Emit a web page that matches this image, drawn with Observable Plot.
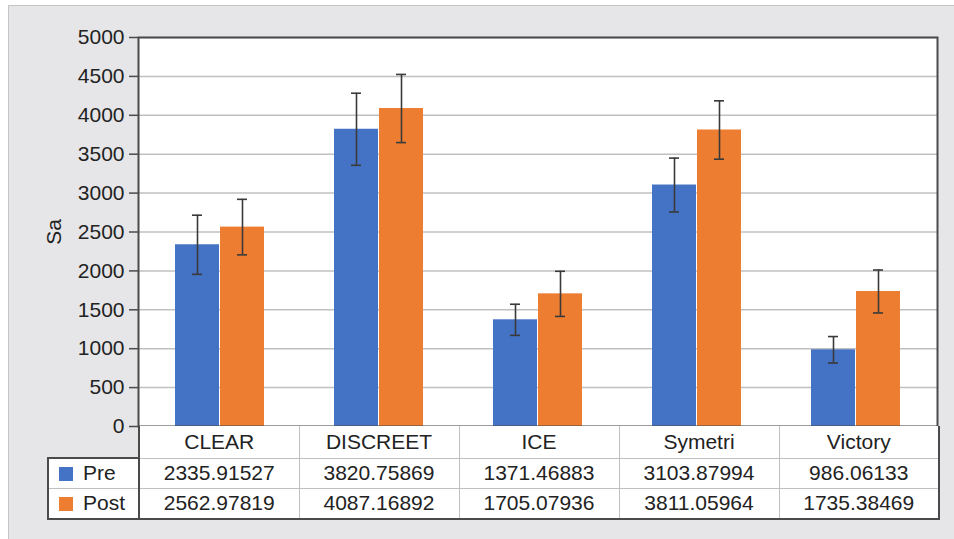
<!DOCTYPE html>
<html>
<head>
<meta charset="utf-8">
<script src="https://cdn.jsdelivr.net/npm/d3@7"></script>
<script src="https://cdn.jsdelivr.net/npm/@observablehq/plot@0.6"></script>
<style>
  html, body { margin: 0; padding: 0; background: #ffffff; }
  #wrap { position: relative; width: 954px; height: 539px; overflow: hidden; font-family: "Liberation Sans", Arial, sans-serif; }
  #panel { position: absolute; left: 8px; top: 5px; width: 960px; height: 560px; background: #e6e6e8; border-left: 1.5px solid #c4c4c6; border-top: 1.5px solid #c4c4c6; }
  #chart { position: absolute; left: 0; top: 0; }
  #tbl { position: absolute; left: 47px; top: 426px; border-collapse: collapse; table-layout: fixed; font-size: 21px; color: #222; }
  #tbl td { padding: 0; text-align: center; border: 1.5px solid #c0c0c0; background: #fff; white-space: nowrap; }
  #tbl td.leg { text-align: left; padding-left: 10px; border-left: 2px solid #4a4a4a; }
  #tbl tr.cat td { height: 31px; border-top: none; }
  #tbl tr.cat td.blank { background: transparent; border: none; border-right: 2px solid #4a4a4a; }
  #tbl tr.r1 td { height: 28.5px; }
  #tbl tr.r1 td.leg { border-top: 2px solid #4a4a4a; }
  #tbl tr.r2 td { height: 29.5px; border-bottom: 2px solid #4a4a4a; }
  #tbl td.last { border-right: 2px solid #4a4a4a; }
  #tbl td.leg { border-right: 2px solid #4a4a4a; }
  .sw { display: inline-block; width: 14px; height: 14px; vertical-align: -1px; margin-right: 10px; }
</style>
</head>
<body>
<div id="wrap">
  <div id="panel"></div>
  <div id="chart"></div>
  <table id="tbl"></table>
</div>
<script>
const categories = ["CLEAR", "DISCREET", "ICE", "Symetri", "Victory"];
const seriesNames = ["Pre", "Post"];
const preValues = [2335.91527, 3820.75869, 1371.46883, 3103.87994, 986.06133];
const postValues = [2562.97819, 4087.16892, 1705.07936, 3811.05964, 1735.38469];
const preErrors = [380, 463, 200, 346, 170];
const postErrors = [357, 438, 290, 375, 276];
const yTicks = [0, 500, 1000, 1500, 2000, 2500, 3000, 3500, 4000, 4500, 5000];
const colors = ["#4472c4", "#ed7d31"];

const data = categories.map((c, i) => ({
  category: c,
  pre: preValues[i], post: postValues[i],
  preErr: preErrors[i], postErr: postErrors[i]
}));

const errColor = "#3a3a3a";
const chart = Plot.plot({
  width: 954,
  height: 430,
  marginLeft: 138,
  marginRight: 17,
  marginTop: 37,
  marginBottom: 4,
  style: { fontFamily: "Liberation Sans, Arial, sans-serif", fontSize: "21px", color: "#222", background: "transparent", overflow: "visible" },
  x: { domain: categories, padding: 0, axis: null },
  y: { domain: [0, 5000], axis: null },
  marks: [
    Plot.frame({ fill: "white", stroke: "none" }),
    Plot.gridY(yTicks, { stroke: "#c0c0c0", strokeOpacity: 1, strokeWidth: 1.5 }),
    Plot.barY(data, { x: "category", y: "pre", fill: colors[0], insetLeft: 35, insetRight: 80 }),
    Plot.barY(data, { x: "category", y: "post", fill: colors[1], insetLeft: 80, insetRight: 35 }),
    Plot.ruleX(data, { x: "category", y1: d => d.pre - d.preErr, y2: d => d.pre + d.preErr, dx: -22.5, stroke: errColor, strokeWidth: 1.6 }),
    Plot.tickY(data, { x: "category", y: d => d.pre - d.preErr, insetLeft: 52, insetRight: 97, stroke: errColor, strokeWidth: 1.6 }),
    Plot.tickY(data, { x: "category", y: d => d.pre + d.preErr, insetLeft: 52, insetRight: 97, stroke: errColor, strokeWidth: 1.6 }),
    Plot.ruleX(data, { x: "category", y1: d => d.post - d.postErr, y2: d => d.post + d.postErr, dx: 22.5, stroke: errColor, strokeWidth: 1.6 }),
    Plot.tickY(data, { x: "category", y: d => d.post - d.postErr, insetLeft: 97, insetRight: 52, stroke: errColor, strokeWidth: 1.6 }),
    Plot.tickY(data, { x: "category", y: d => d.post + d.postErr, insetLeft: 97, insetRight: 52, stroke: errColor, strokeWidth: 1.6 }),
    Plot.axisY(yTicks, { tickFormat: d => String(d), tickSize: 9, tickPadding: 5, stroke: "#4a4a4a", strokeWidth: 1.5, fill: "#222", fontSize: 21, label: "Sa", labelAnchor: "center", labelArrow: "none", labelOffset: 92 }),
    Plot.frame({ stroke: "#4a4a4a", strokeWidth: 2 })
  ]
});
document.getElementById("chart").appendChild(chart);

// data table below the plot
const tbl = document.getElementById("tbl");
const colgroup = document.createElement("colgroup");
const c0 = document.createElement("col"); c0.style.width = "91px"; colgroup.appendChild(c0);
categories.forEach(() => { const c = document.createElement("col"); c.style.width = "160px"; colgroup.appendChild(c); });
tbl.appendChild(colgroup);

const catRow = document.createElement("tr"); catRow.className = "cat";
const blank = document.createElement("td"); blank.className = "blank"; catRow.appendChild(blank);
categories.forEach((c, i) => {
  const td = document.createElement("td"); td.textContent = c;
  if (i === categories.length - 1) td.className = "last";
  catRow.appendChild(td);
});
tbl.appendChild(catRow);

[preValues, postValues].forEach((vals, s) => {
  const tr = document.createElement("tr"); tr.className = "r" + (s + 1);
  const leg = document.createElement("td"); leg.className = "leg";
  const sw = document.createElement("span"); sw.className = "sw"; sw.style.background = colors[s];
  leg.appendChild(sw); leg.appendChild(document.createTextNode(seriesNames[s]));
  tr.appendChild(leg);
  vals.forEach((v, i) => {
    const td = document.createElement("td"); td.textContent = v.toFixed(5);
    if (i === vals.length - 1) td.className = "last";
    tr.appendChild(td);
  });
  tbl.appendChild(tr);
});
</script>
</body>
</html>
